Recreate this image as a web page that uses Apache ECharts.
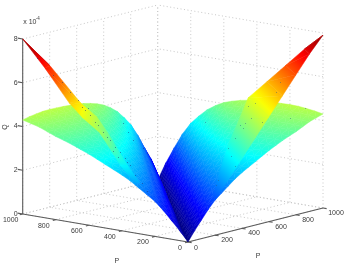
<!DOCTYPE html>
<html>
<head>
<meta charset="utf-8">
<style>html,body{margin:0;padding:0;background:#fff}#c{width:346px;height:265px}</style>
<script src="https://cdn.jsdelivr.net/npm/echarts@6/dist/echarts.min.js"></script>
</head>
<body>
<div id="c"></div>
<script>
// ---- data ----
const pTicks = [0, 200, 400, 600, 800, 1000];
const qTicks = [0, 2, 4, 6, 8];
const gridStep = [0,50,100,150,200,250,300,350,400,450,500,550,600,650,700,750,800,850,900,950,1000];
// Q on the wing surface, listed by the gap |P1-P2| (one list per gap) and then by min(P1,P2)
const wingByGap = [
 [0,0,0,0,0,0,0,0,0,0,0,0,0,0,0,0,0,0,0,0,0],
 [.45,.47,.49,.51,.53,.56,.58,.60,.62,.64,.66,.68,.70,.72,.75,.77,.79,.81,.83,.85],
 [.85,.89,.93,.98,1.02,1.06,1.10,1.14,1.18,1.23,1.27,1.31,1.35,1.39,1.43,1.48,1.52,1.56,1.6],
 [1.25,1.31,1.37,1.44,1.50,1.56,1.62,1.68,1.74,1.81,1.87,1.93,1.99,2.05,2.12,2.18,2.24,2.3],
 [1.6,1.68,1.76,1.83,1.91,1.99,2.07,2.15,2.23,2.3,2.38,2.46,2.54,2.62,2.69,2.77,2.85],
 [1.85,1.94,2.04,2.13,2.22,2.32,2.41,2.50,2.60,2.69,2.78,2.88,2.97,3.06,3.16,3.25],
 [2.1,2.21,2.31,2.42,2.53,2.64,2.74,2.85,2.96,3.06,3.17,3.28,3.39,3.49,3.6],
 [2.35,2.47,2.58,2.70,2.81,2.93,3.04,3.16,3.27,3.39,3.50,3.62,3.73,3.85],
 [2.55,2.68,2.8,2.93,3.05,3.18,3.3,3.43,3.55,3.68,3.8,3.93,4.05],
 [2.73,2.86,2.99,3.13,3.26,3.39,3.52,3.65,3.78,3.92,4.05,4.18],
 [2.9,3.04,3.18,3.31,3.45,3.59,3.73,3.87,4.0,4.14,4.28],
 [3.08,3.22,3.36,3.5,3.64,3.79,3.93,4.07,4.21,4.35],
 [3.25,3.39,3.54,3.68,3.83,3.97,4.11,4.26,4.4],
 [3.4,3.55,3.69,3.84,3.99,4.14,4.28,4.43],
 [3.55,3.7,3.85,4.0,4.15,4.3,4.45],
 [3.68,3.84,3.99,4.15,4.3,4.46],
 [3.8,3.97,4.14,4.3,4.47],
 [3.95,4.12,4.29,4.46],
 [4.1,4.26,4.42],
 [4.2,4.37],
 [4.3]
];
// The left wing rises faster off the valley line than the right one
const leftGap1 = [.45,.52,.58,.63,.68,.72,.76,.79,.82,.85,.88,.91,.93,.95,.97,.99,1.0,1.02,1.03,1.05];
const leftGap2 = [.85,.95,1.03,1.1,1.17,1.23,1.28,1.33,1.38,1.43,1.47,1.51,1.55,1.58,1.6,1.62,1.63,1.64,1.65];
// Right sheet: rows of [P1,P2,Q] on its front edge and its far edge
const rightEdgeA = [[0,1000,7.9],[0,900,7.2],[0,800,6.4],[0,700,5.6],[0,600,4.8],[0,500,4.0],[0,400,3.2],[0,300,2.4],[0,200,1.6]];
const rightEdgeB = [[0,1000,7.9],[90,972,7.19],[180,943,6.37],[270,915,5.56],[360,886,4.75],[300,740,3.97],[247,600,3.2],[150,420,2.39],[50,250,1.68]];
// Left sheet
const leftEdgeA = [[1000,0,8],[865,0,6.84],[720,0,5.45],[641,0,4.89],[532,0,4.3],[411,0,3.0],[320,0,2.25]];
const leftEdgeB = [[1000,0,8],[930,115,6.7],[760,140,5.13],[738,229,4.41],[636,186,3.88],[396,40,2.9],[291,1,2.33]];
// Stray dark facets showing through the sheets: [P1,P2,Q]
const leftSpecks = [[913,0,7.24],[817,0,6.59],[762,0,6.34],[714,0,5.94],[665,0,5.64],[641,0,5.35],[623,0,5.24],[593,0,5.05],[563,0,4.76],[544,0,4.65],[514,0,4.37],[490,0,4.17],[472,0,4.06],[442,0,3.78],[411,0,3.59],[381,0,3.35],[369,0,3.19],[605,0,5.35],[393,0,4.94],[363,0,4.56],[333,0,4.24],[272,0,3.95],[248,0,3.75],[423,0,3.34],[351,0,3.07],[321,0,2.65],[278,0,2.34],[248,0,2.02],[454,0,3.58]];
const rightSpecks = [[0,496,5.58],[0,444,5.53],[0,467,4.94],[0,652,5.84],[0,681,6.25],[0,867,4.78],[0,756,4.49],[0,385,4.75],[0,422,4.79],[0,407,4.58],[0,126,5.29],[0,548,4.64],[0,348,4.21],[0,296,3.84],[0,222,2.49],[0,207,2.29],[0,348,2.93],[0,319,3.44]];

// ---- view ----
const px = (a, b) => 188 - 0.1653 * a + 0.135 * b;
const py = (a, b, q) => 242 - 0.028 * a - 0.034 * b - 21.875 * q;
const JET = [[0,0,0,.5],[.125,0,0,1],[.375,0,1,1],[.625,1,1,0],[.875,1,0,0],[1,.5,0,0]];
function jet(q) {
  const t = Math.max(0, Math.min(1, q / 8));
  for (let i = 1; i < JET.length; i++) if (t <= JET[i][0]) {
    const A = JET[i-1], B = JET[i], f = (t - A[0]) / (B[0] - A[0]);
    const c = [1,2,3].map(k => Math.round(255 * (A[k] + (B[k]-A[k]) * f)));
    return 'rgb(' + c.join(',') + ')';
  }
  return 'rgb(128,0,0)';
}
function fillFor(pts, qs) {
  const [x0,y0] = pts[0], ux = pts[1][0]-x0, uy = pts[1][1]-y0, vx = pts[2][0]-x0, vy = pts[2][1]-y0;
  const det = ux*vy - uy*vx, du = qs[1]-qs[0], dv = qs[2]-qs[0];
  const qmin = Math.min(...qs), qmax = Math.max(...qs);
  if (Math.abs(det) < 1e-3 || qmax - qmin < 1e-3) return jet((qmin+qmax)/2);
  const gx = (du*vy - dv*uy)/det, gy = (dv*ux - du*vx)/det, g2 = gx*gx + gy*gy;
  const s = pts[qs.indexOf(qmin)], span = qmax - qmin;
  const stops = [];
  for (let k = 0; k <= 4; k++) stops.push({offset: k/4, color: jet(qmin + span*k/4)});
  return new echarts.graphic.LinearGradient(s[0], s[1], s[0]+gx*span/g2, s[1]+gy*span/g2, stops, true);
}
const wingTris = [];
const wingV = (m,n) => {
  const gap = Math.abs(m-n), low = Math.min(m,n);
  let q = wingByGap[gap][low];
  if (m > n && gap === 1) q = leftGap1[low];
  if (m > n && gap === 2) q = leftGap2[low];
  return [gridStep[m], gridStep[n], q];
};
for (let i = 0; i < gridStep.length-1; i++) for (let j = 0; j < gridStep.length-1; j++) {
  wingTris.push([wingV(i,j), wingV(i+1,j), wingV(i+1,j+1)], [wingV(i,j), wingV(i+1,j+1), wingV(i,j+1)]);
}
// far ones first: depth runs along screen-constant x, lifted a little by height
const depth = t => t.reduce((s,v) => s + 0.135*v[0] + 0.165*v[1] - 6*v[2], 0);
wingTris.sort((p,q) => depth(q) - depth(p));
function sheetTris(A, B) {
  const out = [];
  for (let i = 0; i < A.length-1; i++) out.push([A[i], A[i+1], B[i+1]], [A[i], B[i+1], B[i]]);
  return out;
}
const tris = wingTris.concat(sheetTris(rightEdgeA, rightEdgeB), sheetTris(leftEdgeA, leftEdgeB));

const gridLines = [];
pTicks.forEach(p => {
  gridLines.push([p,0,0,p,1000,0],[0,p,0,1000,p,0],[p,1000,0,p,1000,8],[1000,p,0,1000,p,8]);
});
qTicks.forEach(q => { gridLines.push([0,1000,q,1000,1000,q],[1000,0,q,1000,1000,q]); });
const axisLines = [[0,0,0,1000,0,0],[0,0,0,0,1000,0],[1000,0,0,1000,0,8]];
pTicks.forEach(p => { axisLines.push([p,0,0,p,-22,0],[0,p,0,-22,p,0]); });
qTicks.forEach(q => { axisLines.push([1000,0,q,1030,0,q]); });

const texts = [];
pTicks.forEach(p => {
  texts.push([p,0,0,String(p), p===0?-8:-12, 6]);
  texts.push([0,p,0,String(p), p===0?8:(p===1000?13:12), p===0?6:5]);
});
qTicks.forEach(q => texts.push([1000,0,q,String(q),-7,0]));
texts.push([1000,0,8,'x 10',0.5,-17]);
texts.push([1000,0,8,'-4',13,-20]);
texts.push([430,0,0,'P',0,31],[0,520,0,'P',0,32]);

const lineSeries = (name, data, style, z) => ({
  type:'custom', name, data, coordinateSystem:'cartesian2d', z, silent:true, clip:false,
  encode:{x:0,y:1},
  renderItem:(p, api) => {
    const d = data[p.dataIndex];
    const a = api.coord([px(d[0],d[1]), py(d[0],d[1],d[2])]);
    const b = api.coord([px(d[3],d[4]), py(d[3],d[4],d[5])]);
    return {type:'line', shape:{x1:a[0],y1:a[1],x2:b[0],y2:b[1]}, style};
  }
});
const speckSeries = (name, data, fill) => ({
  type:'custom', name, data, coordinateSystem:'cartesian2d', z:4, silent:true, clip:false,
  encode:{x:0,y:1},
  renderItem:(p, api) => {
    const d = data[p.dataIndex];
    const c = api.coord([px(d[0],d[1]), py(d[0],d[1],d[2])]);
    return {type:'rect', shape:{x:Math.round(c[0]),y:Math.round(c[1]),width:1,height:1}, style:{fill}};
  }
});

const chart = echarts.init(document.getElementById('c'), null, {renderer:'canvas'});
chart.setOption({
  animation:false,
  backgroundColor:'#fff',
  grid:{left:0,right:0,top:0,bottom:0},
  xAxis:{type:'value',min:0,max:346,show:false},
  yAxis:{type:'value',min:0,max:265,inverse:true,show:false},
  series:[
    lineSeries('grid', gridLines, {stroke:'#c8c8c8',lineWidth:1,lineDash:[1,2.5]}, 1),
    lineSeries('axes', axisLines, {stroke:'#5a5a5a',lineWidth:1.1}, 2),
    {
      type:'custom', name:'surface', data:tris.map((t,i)=>[i]), z:3, silent:true, clip:false,
      coordinateSystem:'cartesian2d', encode:{x:0,y:0},
      renderItem:(p, api) => {
        const t = tris[p.dataIndex];
        const pts = t.map(v => api.coord([px(v[0],v[1]), py(v[0],v[1],v[2])]));
        const fill = fillFor(pts, t.map(v => v[2]));
        return {type:'polygon', shape:{points:pts}, style:{fill, stroke:fill, lineWidth:0.5}};
      }
    },
    speckSeries('leftSpecks', leftSpecks, 'rgba(25,45,120,0.5)'),
    speckSeries('rightSpecks', rightSpecks, 'rgba(40,90,130,0.45)'),
    {
      type:'custom', name:'labels', data:texts.map((t,i)=>[i]), z:5, silent:true, clip:false,
      coordinateSystem:'cartesian2d', encode:{x:0,y:0},
      renderItem:(p, api) => {
        const d = texts[p.dataIndex];
        const c = api.coord([px(d[0],d[1]), py(d[0],d[1],d[2])]);
        const small = d[3] === '-4';
        return {type:'text', x:c[0]+d[4], y:c[1]+d[5], style:{
          text:d[3], fill:'#3a3a3a', font:(small?4.5:7)+'px "Liberation Sans", Arial, sans-serif',
          align:d[3]==='x 10'||small?'left':'center', verticalAlign:'middle'}};
      }
    },
    {
      type:'custom', name:'qTitle', data:[[0]], z:5, silent:true, clip:false,
      coordinateSystem:'cartesian2d', encode:{x:0,y:0},
      renderItem:(p, api) => {
        const c = api.coord([5,127]);
        return {type:'text', x:c[0], y:c[1], rotation:Math.PI/2, style:{
          text:'Q', fill:'#3a3a3a', font:'7px "Liberation Sans", Arial, sans-serif', align:'center', verticalAlign:'middle'}};
      }
    }
  ]
});
</script>
</body>
</html>
